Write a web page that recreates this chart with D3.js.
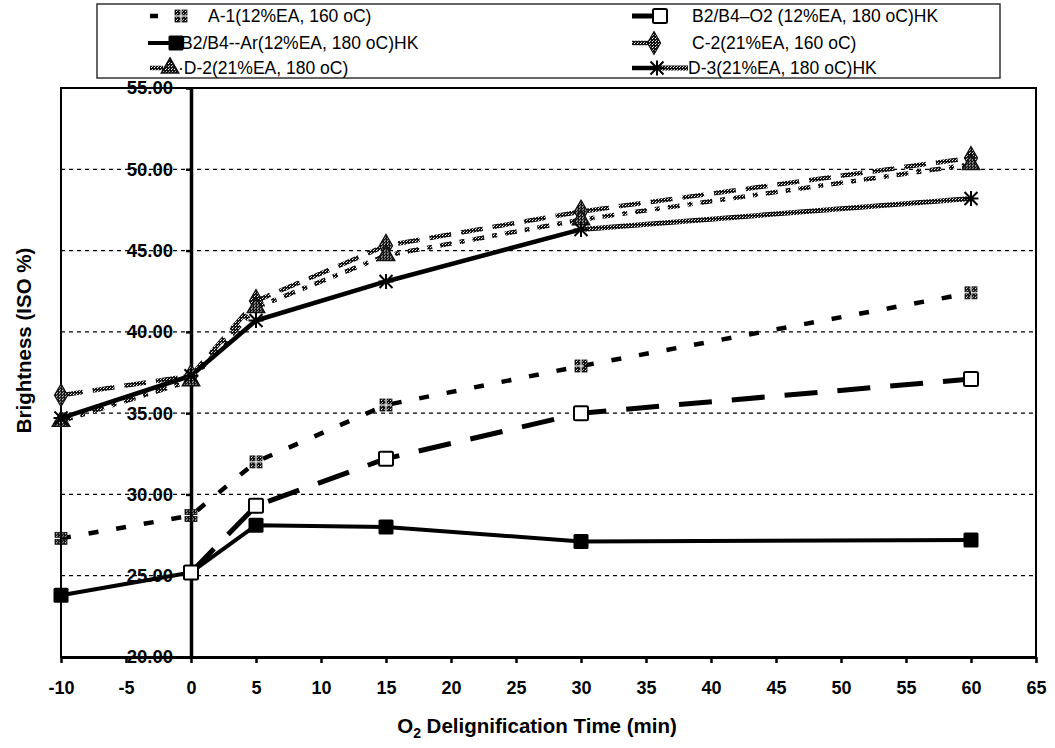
<!DOCTYPE html>
<html>
<head>
<meta charset="utf-8">
<script src="https://cdn.jsdelivr.net/npm/d3@7"></script>
<style>
  html, body { margin: 0; padding: 0; background: #fff; }
  svg { display: block; font-family: "Liberation Sans", Arial, sans-serif; }
</style>
</head>
<body>
<svg id="chart" width="1055" height="748"></svg>
<script>
// O2 delignification time (min) and brightness (ISO %) per trial
const times = [-10, 0, 5, 15, 30, 60];
const timesO2 = [0, 5, 15, 30, 60];
const seriesA1 = [27.3, 28.7, 32.0, 35.5, 37.9, 42.4];
const seriesB2O2 = [25.2, 29.3, 32.2, 35.0, 37.1];
const seriesB2Ar = [23.8, 25.2, 28.1, 28.0, 27.1, 27.2];
const seriesC2 = [36.1, 37.3, 41.9, 45.3, 47.4, 50.7];
const seriesD2 = [34.5, 37.0, 41.5, 44.7, 46.9, 50.3];
const seriesD3 = [34.7, 37.3, 40.7, 43.1, 46.3, 48.2];

const seriesNames = [
  "A-1(12%EA, 160 oC)",
  "B2/B4\u2013O2 (12%EA, 180 oC)HK",
  "B2/B4--Ar(12%EA, 180 oC)HK",
  "C-2(21%EA, 160 oC)",
  "D-2(21%EA, 180 oC)",
  "D-3(21%EA, 180 oC)HK"
];

const xTicks = [-10, -5, 0, 5, 10, 15, 20, 25, 30, 35, 40, 45, 50, 55, 60, 65];
const yTicks = [20, 25, 30, 35, 40, 45, 50, 55];
const yGrid = [25, 30, 35, 40, 45, 50];

const svg = d3.select("#chart");

// speckled dark paint used by the hatched lines and markers
const defs = svg.append("defs");
const pat = defs.append("pattern")
  .attr("id", "speckle").attr("patternUnits", "userSpaceOnUse")
  .attr("width", 3).attr("height", 3);
pat.append("rect").attr("width", 3).attr("height", 3).attr("fill", "#151515");
pat.append("rect").attr("x", 1).attr("y", 1).attr("width", 1).attr("height", 1).attr("fill", "#fff");
pat.append("rect").attr("x", 2).attr("y", 0).attr("width", 1).attr("height", 1).attr("fill", "#bbb");

const x = d3.scaleLinear().domain([-10, 65]).range([61, 1036]);
const y = d3.scaleLinear().domain([20, 55]).range([657, 88]);

// plot frame
svg.append("rect")
  .attr("x", x(-10)).attr("y", y(55))
  .attr("width", x(65) - x(-10)).attr("height", y(20) - y(55))
  .attr("fill", "none").attr("stroke", "#000").attr("stroke-width", 2);

// dashed horizontal gridlines
svg.append("g").selectAll("line").data(yGrid).join("line")
  .attr("x1", x(-10)).attr("x2", x(65))
  .attr("y1", d => y(d)).attr("y2", d => y(d))
  .attr("stroke", "#000").attr("stroke-width", 1.2)
  .attr("stroke-dasharray", "4,4");

// x axis along the bottom
const xAxis = svg.append("g")
  .attr("transform", `translate(0,${y(20)})`)
  .call(d3.axisBottom(x).tickValues(xTicks).tickFormat(d => String(d))
    .tickSize(6).tickPadding(18).tickSizeOuter(0));
xAxis.select(".domain").attr("stroke-width", 3);
xAxis.selectAll(".tick line").attr("stroke-width", 2.5);
xAxis.selectAll("text")
  .attr("font-size", 18).attr("font-weight", "bold")
  .attr("font-family", "Liberation Sans, Arial, sans-serif");

// y axis crossing at time zero
const yAxis = svg.append("g")
  .attr("transform", `translate(${x(0)},0)`)
  .call(d3.axisLeft(y).tickValues(yTicks).tickFormat(d3.format(".2f"))
    .tickSize(5).tickPadding(13).tickSizeOuter(0));
yAxis.select(".domain").attr("stroke-width", 3.5);
yAxis.selectAll(".tick line").attr("stroke-width", 2.5);
yAxis.selectAll("text")
  .attr("font-size", 18.5).attr("font-weight", "bold")
  .attr("font-family", "Liberation Sans, Arial, sans-serif");

// axis titles
svg.append("text")
  .attr("transform", `translate(31,${(y(55) + y(20)) / 2 - 32}) rotate(-90)`)
  .attr("text-anchor", "middle").attr("font-size", 20.5).attr("font-weight", "bold")
  .text("Brightness (ISO %)");

const xt = svg.append("text")
  .attr("x", 537).attr("y", 733)
  .attr("text-anchor", "middle").attr("font-size", 20.5).attr("font-weight", "bold");
xt.append("tspan").text("O");
xt.append("tspan").attr("font-size", 14).attr("dy", 5).text("2");
xt.append("tspan").attr("dy", -5).text(" Delignification Time (min)");

// marker painters
function asteriskPath(s) {
  const r = s / 2;
  return `M${-r},${-r}L${r},${r}M${-r},${r}L${r},${-r}M0,${-r * 1.15}L0,${r * 1.15}M${-r * 1.15},0L${r * 1.15},0`;
}
function drawMarker(g, kind, cx, cy) {
  const m = g.append("g").attr("transform", `translate(${cx},${cy})`);
  if (kind === "quad") {
    [[-6, -6], [1, -6], [-6, 1], [1, 1]].forEach(([dx, dy]) =>
      m.append("rect").attr("x", dx).attr("y", dy).attr("width", 5).attr("height", 5)
        .attr("fill", "url(#speckle)").attr("stroke", "#111").attr("stroke-width", 0.8));
  } else if (kind === "openSquare") {
    m.append("rect").attr("x", -7).attr("y", -7).attr("width", 14).attr("height", 14)
      .attr("rx", 1.5).attr("fill", "#fff").attr("stroke", "#000").attr("stroke-width", 2);
  } else if (kind === "square") {
    m.append("rect").attr("x", -7.5).attr("y", -7.5).attr("width", 15).attr("height", 15)
      .attr("rx", 1.5).attr("fill", "#000");
  } else if (kind === "diamond") {
    m.append("path").attr("d", d3.symbol(d3.symbolDiamond, 150)())
      .attr("fill", "url(#speckle)").attr("stroke", "#111").attr("stroke-width", 1.2);
  } else if (kind === "triangle") {
    m.append("path").attr("d", d3.symbol(d3.symbolTriangle, 130)())
      .attr("fill", "url(#speckle)").attr("stroke", "#111").attr("stroke-width", 1.5);
  } else if (kind === "asterisk") {
    m.append("path").attr("d", asteriskPath(13))
      .attr("fill", "none").attr("stroke", "#000").attr("stroke-width", 2);
  }
}

const line = d3.line().x(d => x(d[0])).y(d => y(d[1]));
const zipXY = (xs, ys) => xs.map((t, i) => [t, ys[i]]);

const plot = svg.append("g");
const styles = {
  a1: { stroke: "#000", width: 4.5, dash: "10,18" },
  o2: { stroke: "#000", width: 5, dash: "33,20" },
  ar: { stroke: "#000", width: 4, dash: null },
  c2: { stroke: "url(#speckle)", width: 4.5, dash: "22,10" },
  d2: { stroke: "url(#speckle)", width: 4.5, dash: "12,8,5,8" },
  d3s: { stroke: "#000", width: 4.5, dash: null },
  d3h: { stroke: "url(#speckle)", width: 5, dash: null }
};
function drawLine(pts, st) {
  plot.append("path").datum(pts).attr("d", line)
    .attr("fill", "none").attr("stroke", st.stroke).attr("stroke-width", st.width)
    .attr("stroke-dasharray", st.dash).attr("stroke-linejoin", "round");
}

const ptsA1 = zipXY(times, seriesA1);
const ptsO2 = zipXY(timesO2, seriesB2O2);
const ptsAr = zipXY(times, seriesB2Ar);
const ptsC2 = zipXY(times, seriesC2);
const ptsD2 = zipXY(times, seriesD2);
const ptsD3 = zipXY(times, seriesD3);

drawLine(ptsC2, styles.c2);
drawLine(ptsD2, styles.d2);
drawLine(ptsD3.slice(0, 5), styles.d3s);
drawLine(ptsD3.slice(4), styles.d3h);
drawLine(ptsA1, styles.a1);
drawLine(ptsO2, styles.o2);
drawLine(ptsAr, styles.ar);

ptsC2.forEach(p => drawMarker(plot, "diamond", x(p[0]), y(p[1])));
ptsD2.forEach(p => drawMarker(plot, "triangle", x(p[0]), y(p[1])));
ptsD3.forEach(p => drawMarker(plot, "asterisk", x(p[0]), y(p[1])));
ptsA1.forEach(p => drawMarker(plot, "quad", x(p[0]), y(p[1])));
ptsAr.forEach(p => drawMarker(plot, "square", x(p[0]), y(p[1])));
ptsO2.forEach(p => drawMarker(plot, "openSquare", x(p[0]), y(p[1])));

// legend
const lg = svg.append("g");
lg.append("rect").attr("x", 97).attr("y", 4).attr("width", 903).attr("height", 74)
  .attr("fill", "#fff").attr("stroke", "#333").attr("stroke-width", 1.5);

const legendItems = [
  { name: seriesNames[0], row: 0, textX: 208, draw: (g, cy) => {
      g.append("line").attr("x1", 150).attr("x2", 158).attr("y1", cy).attr("y2", cy)
        .attr("stroke", "#000").attr("stroke-width", 4.5);
      drawMarker(g, "quad", 181, cy);
  } },
  { name: seriesNames[2], row: 1, textX: 181, draw: (g, cy) => {
      g.append("line").attr("x1", 148).attr("x2", 181).attr("y1", cy).attr("y2", cy)
        .attr("stroke", "#000").attr("stroke-width", 4);
      drawMarker(g, "square", 176, cy);
  } },
  { name: "\u00b7" + seriesNames[4], row: 2, textX: 178, draw: (g, cy) => {
      g.append("line").attr("x1", 150).attr("x2", 163).attr("y1", cy).attr("y2", cy)
        .attr("stroke", "url(#speckle)").attr("stroke-width", 4.5);
      drawMarker(g, "triangle", 170, cy);
  } },
  { name: seriesNames[1], row: 0, textX: 692, draw: (g, cy) => {
      g.append("line").attr("x1", 632).attr("x2", 655).attr("y1", cy).attr("y2", cy)
        .attr("stroke", "#000").attr("stroke-width", 5);
      drawMarker(g, "openSquare", 660, cy);
  } },
  { name: seriesNames[3], row: 1, textX: 692, draw: (g, cy) => {
      g.append("line").attr("x1", 632).attr("x2", 648).attr("y1", cy).attr("y2", cy)
        .attr("stroke", "url(#speckle)").attr("stroke-width", 4.5);
      drawMarker(g, "diamond", 654, cy);
  } },
  { name: seriesNames[5], row: 2, textX: 688, draw: (g, cy) => {
      g.append("line").attr("x1", 632).attr("x2", 655).attr("y1", cy).attr("y2", cy)
        .attr("stroke", "#000").attr("stroke-width", 4.5);
      g.append("line").attr("x1", 657).attr("x2", 688).attr("y1", cy).attr("y2", cy)
        .attr("stroke", "url(#speckle)").attr("stroke-width", 5);
      drawMarker(g, "asterisk", 657, cy);
  } }
];
const rowY = [16, 43, 68];
legendItems.forEach(it => {
  const cy = rowY[it.row];
  it.draw(lg, cy);
  lg.append("text").attr("x", it.textX).attr("y", cy).attr("dy", "0.36em")
    .attr("font-size", 17.5).attr("fill", "#000").text(it.name);
});
</script>
</body>
</html>
